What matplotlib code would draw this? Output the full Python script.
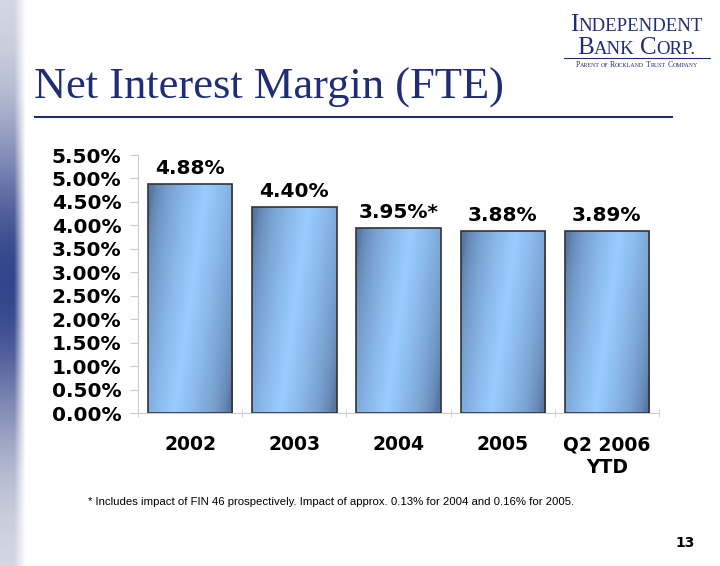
import matplotlib.pyplot as plt
import numpy as np
from matplotlib.patches import Rectangle

categories = ['2002', '2003', '2004', '2005', 'Q2 2006\nYTD']
nim = [4.88, 4.40, 3.95, 3.88, 3.89]
bar_labels = ['4.88%', '4.40%', '3.95%*', '3.88%', '3.89%']
yticks = [0.0, 0.5, 1.0, 1.5, 2.0, 2.5, 3.0, 3.5, 4.0, 4.5, 5.0, 5.5]

navy = '#1f2d78'

fig = plt.figure(figsize=(7.2, 5.66), dpi=100)
renderer = fig.canvas.get_renderer()


def small_caps(x_c, y, words, big, small, **kw):
    # draw words in small caps, centred on x_c (figure fraction)
    pieces = []
    for wi, w in enumerate(words):
        if wi:
            pieces.append((' ', small))
        if w.islower():
            pieces.append((w.upper(), small))
            continue
        pieces.append((w[0], big))
        if len(w) > 1:
            pieces.append((w[1:], small))
    arts = [fig.text(0, y, p, fontsize=s, ha='left', va='baseline', **kw) for p, s in pieces]
    widths = [a.get_window_extent(renderer).width / fig.bbox.width for a in arts]
    xpos = x_c - sum(widths) / 2
    for a, w in zip(arts, widths):
        a.set_x(xpos)
        xpos += w


# left decorative strip
sx = fig.add_axes([0, 0, 0.036, 1])
yy = np.linspace(0, 1, 300)
band = np.exp(-((yy - 0.5) / 0.28) ** 2)
light = np.array([0.86, 0.87, 0.90])
dark = np.array([0.20, 0.27, 0.55])
col = light[None, :] * (1 - band[:, None]) + dark[None, :] * band[:, None]
xx = np.linspace(0, 1, 30)
edge = np.clip((xx - 0.55) / 0.45, 0, 1)
img = col[:, None, :] * (1 - edge[None, :, None]) + 1.0 * edge[None, :, None]
sx.imshow(img, aspect='auto', extent=(0, 1, 0, 1))
sx.axis('off')

# title and rule
fig.text(0.047, 0.845, 'Net Interest Margin (FTE)', family='Liberation Serif',
         fontsize=32, color=navy, va='center')
fig.add_artist(plt.Line2D([0.048, 0.934], [0.793, 0.793], color=navy, lw=1.5))

# logo
small_caps(0.884, 0.945, ['INDEPENDENT'], 18, 13.5, family='Liberation Serif', color=navy)
small_caps(0.884, 0.905, ['BANK', 'CORP.'], 18, 13.5, family='Liberation Serif', color=navy)
fig.add_artist(plt.Line2D([0.784, 0.986], [0.898, 0.898], color=navy, lw=0.8))
small_caps(0.884, 0.881, ['PARENT', 'of', 'ROCKLAND', 'TRUST', 'COMPANY'], 5.6, 4.3,
           family='Liberation Serif', color=navy)

ax = fig.add_axes([0.1917, 0.2703, 0.7236, 0.4558])
x = np.arange(len(categories))
bars = ax.bar(x, nim, width=0.81, color='none', edgecolor='#333333', linewidth=1.2, zorder=3)

# diagonal gradient fill for each bar
gx, gy = np.meshgrid(np.linspace(0, 1, 80), np.linspace(0, 1, 200))
dk = np.array([0.35, 0.47, 0.64])
lt = np.array([0.60, 0.80, 1.0])
for b in bars:
    x0, w, h = b.get_x(), b.get_width(), b.get_height()
    t = gx * 0.9 + (1 - gy) * 0.35 * h / 5
    t = t / t.max()
    v = np.clip(1 - np.abs(t - 0.5) * 2.2, 0, 1) ** 0.6
    g = dk[None, None, :] * (1 - v[..., None]) + lt[None, None, :] * v[..., None]
    im = ax.imshow(g, aspect='auto', extent=(x0, x0 + w, 0, h), origin='lower', zorder=2)
    im.set_clip_path(Rectangle((x0, 0), w, h, transform=ax.transData))

for xi, v, lab in zip(x, nim, bar_labels):
    ax.text(xi, v + 0.12, lab, ha='center', va='bottom', fontsize=14.5,
            fontweight='bold', color='black')

ax.set_xlim(-0.5, len(categories) - 0.5)
ax.set_ylim(0, 5.5)
ax.set_yticks(yticks)
ax.set_yticklabels([f'{t:.2f}%' for t in yticks], fontsize=14.5, fontweight='bold')
ax.set_xticks(x)
ax.set_xticklabels(categories, fontsize=13.5, fontweight='bold', linespacing=1.25)
ax.set_xticks(np.arange(-0.5, len(categories)), minor=True)
ax.tick_params(axis='x', which='major', length=0, pad=16)
ax.tick_params(axis='x', which='minor', length=6, color='#cccccc', direction='inout')
ax.tick_params(axis='y', length=6, color='#cccccc', pad=6)
for s in ['top', 'right']:
    ax.spines[s].set_visible(False)
ax.spines['left'].set_color('#cccccc')
ax.spines['bottom'].set_color('#cccccc')
ax.set_facecolor('none')

fig.text(0.122, 0.113, '* Includes impact of FIN 46 prospectively. Impact of approx. 0.13% for 2004 and 0.16% for 2005.',
         family='Liberation Sans', fontsize=8.2, va='center', color='black')
fig.text(0.965, 0.041, '13', fontsize=10, fontweight='bold', ha='right', va='center')

fig.savefig('out.png', dpi=100)
